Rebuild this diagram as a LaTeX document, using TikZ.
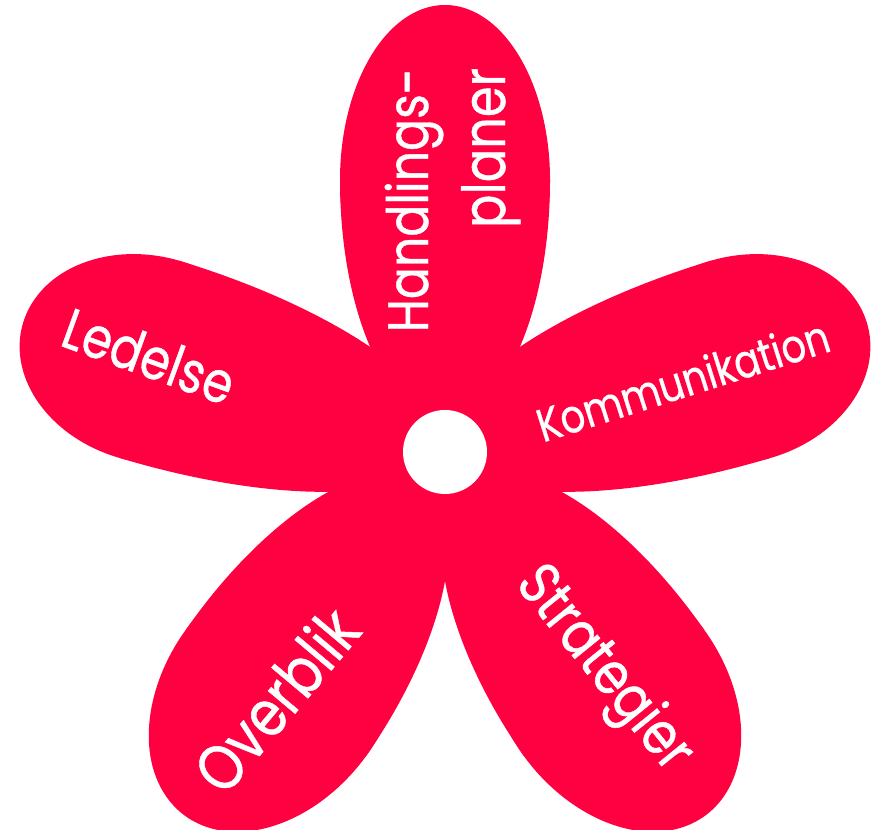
\documentclass[tikz,border=0pt]{standalone}
\usepackage{fontspec}
\setmainfont{Poppins}
\newfontfamily\labelfont{Poppins}[FakeBold=0.8]
\definecolor{flower}{RGB}{255,0,64}
% one egg-shaped petal:
% #1 angle, #2 lateral offset, #3 widest point, #4 outer radius, #5 inner radius,
% #6 half width, #7 bend of the inner half
\newcommand\flowerpetal[7]{%
  \fill[flower, shift={(c)}, rotate=#1, rotate around={#7:(#3,#2)}]
    (#3,#2+#6) arc[start angle=90, end angle=270, x radius=#5, y radius=#6] -- cycle;
  \fill[flower, shift={(c)}, rotate=#1]
    (#3,#2) ++(-100:#4 and #6) arc[start angle=-100, end angle=100, x radius=#4, y radius=#6] -- cycle;}
\newcommand\fitword[2]{\resizebox{#1pt}{!}{\scalebox{1}[1.2]{#2}}}
\begin{document}
\begin{tikzpicture}[x=1pt, y=1pt,
  lbl/.style={text=white, inner sep=0pt, anchor=base, font=\labelfont\fontsize{50}{60}\selectfont}]
\useasboundingbox (0,0) rectangle (881,830);
\coordinate (c) at (445,378);
% petals
\flowerpetal{90}{0}{272}{175}{238}{105}{0}
\flowerpetal{165}{-13}{310}{131}{307}{103}{-1.8}
\flowerpetal{15}{13}{310}{131}{307}{103}{1.8}
\flowerpetal{233}{10}{294}{153}{257}{110}{2.2}
\flowerpetal{307}{-10}{294}{153}{257}{110}{-2.2}
% heart of the flower
\fill[flower] (c) circle (100);
\fill[white] (c) circle (42);
% labels
\node[lbl, rotate=90] (handlings) at (428,630) {\fitword{264}{Handlings-}};
\node[lbl, rotate=90] (planer) at (505,682) {\fitword{160}{planer}};
\node[lbl, rotate=17.6] (kommunikation) at (688,433.5) {\fitword{304}{Kommunikation}};
\node[lbl, rotate=-20] (ledelse) at (142,454.6) {\fitword{178}{Ledelse}};
\node[lbl, rotate=50] (overblik) at (294,115) {\fitword{216}{Overblik}};
\node[lbl, rotate=-51] (strategier) at (591.2,150.7) {\fitword{244}{Strategier}};
\end{tikzpicture}
\end{document}
